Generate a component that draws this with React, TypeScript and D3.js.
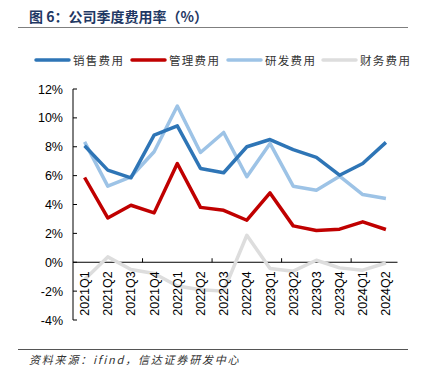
import React from "react";
import * as d3 from "d3";

const categories = ["2021Q1","2021Q2","2021Q3","2021Q4","2022Q1","2022Q2","2022Q3","2022Q4","2023Q1","2023Q2","2023Q3","2023Q4","2024Q1","2024Q2"];
const sales = [8.07, 6.38, 5.85, 8.8, 9.45, 6.5, 6.2, 8.0, 8.5, 7.8, 7.26, 6.03, 6.84, 8.3];
const admin = [5.87, 3.07, 3.95, 3.42, 6.84, 3.8, 3.6, 2.91, 4.8, 2.52, 2.2, 2.29, 2.8, 2.27];
const rnd = [8.34, 5.27, 5.92, 7.65, 10.82, 7.6, 8.99, 5.92, 8.23, 5.27, 4.99, 5.96, 4.69, 4.42];
const finance = [-1.2, 0.37, -0.5, -0.78, -1.65, -1.9, -2.0, 1.87, -0.44, -0.62, 0.14, -0.39, -0.55, -0.05];
const yTicks = [-4, -2, 0, 2, 4, 6, 8, 10, 12];

const seriesNames = ["销售费用", "管理费用", "研发费用", "财务费用"];
const seriesColors = ["#2E75B6", "#C00000", "#9DC3E6", "#DDDDDD"];
const seriesData = [sales, admin, rnd, finance];

export default function App() {
  const W = 421, H = 376;
  const left = 73, right = 397.5, top = 89, bottom = 320;
  const x = d3.scaleBand<string>().domain(categories).range([left, right]).padding(0);
  const y = d3.scaleLinear().domain([-4, 12]).range([bottom, top]);
  const cx = (c: string) => (x(c) as number) + x.bandwidth() / 2;
  const line = d3.line<number>().x((_, i) => cx(categories[i])).y(d => y(d));
  const y0 = y(0);
  const drawOrder = [3, 2, 1, 0];
  const legendX = [36, 132, 228, 323];
  const font = "Liberation Sans, Arial, sans-serif";
  const cjk = "'Noto Sans CJK SC', sans-serif";
  return (
    <svg width={W} height={H} style={{ position: "absolute", left: 0, top: 0, background: "#fff" }}>
      <text x={29} y={22} fontFamily={cjk} fontWeight="bold" fontSize={14} fill="#1F3864">图 6：公司季度费用率（%）</text>
      <line x1={18} x2={408} y1={27.5} y2={27.5} stroke="#7F7F7F" strokeWidth={1} />
      {seriesNames.map((n, i) => (
        <g key={n}>
          <line x1={legendX[i]} x2={legendX[i] + 33} y1={60} y2={60} stroke={seriesColors[i]} strokeWidth={3.5} strokeLinecap="round" />
          <text x={legendX[i] + 37} y={64.5} fontFamily={cjk} fontSize={11.5} letterSpacing={1.3} fill="#333">{n}</text>
        </g>
      ))}
      {/* y axis */}
      <line x1={left} x2={left} y1={top} y2={bottom} stroke="#000" strokeWidth={1} />
      {yTicks.map(t => (
        <g key={t}>
          <line x1={left} x2={left + 4} y1={y(t)} y2={y(t)} stroke="#000" strokeWidth={1} />
          <text x={63} y={y(t) + 4.5} textAnchor="end" fontFamily={font} fontSize={12.5} fill="#000">{t + "%"}</text>
        </g>
      ))}
      {/* x axis at 0 */}
      <line x1={left} x2={right} y1={y0} y2={y0} stroke="#000" strokeWidth={1} />
      {categories.map((c, i) => (i % 3 === 0 && i > 0) ? (
        <line key={"t" + c} x1={x(c) as number} x2={x(c) as number} y1={y0} y2={y0 - 4} stroke="#000" strokeWidth={1} />
      ) : null)}
      {drawOrder.map(i => (
        <path key={seriesNames[i]} d={line(seriesData[i]) as string} fill="none" stroke={seriesColors[i]} strokeWidth={3.5} strokeLinejoin="round" />
      ))}
      {categories.map(c => (
        <text key={c} transform={`translate(${cx(c) + 4.5},${y0 + 9}) rotate(-90)`} textAnchor="end" fontFamily={font} fontSize={12.5} fill="#000">{c}</text>
      ))}
      <line x1={18} x2={408} y1={349.5} y2={349.5} stroke="#555" strokeWidth={1} />
      <text x={29} y={364} fontFamily={cjk} fontStyle="italic" fontSize={11} fill="#333" letterSpacing={1.8}>资料来源：ifind，信达证券研发中心</text>
    </svg>
  );
}
